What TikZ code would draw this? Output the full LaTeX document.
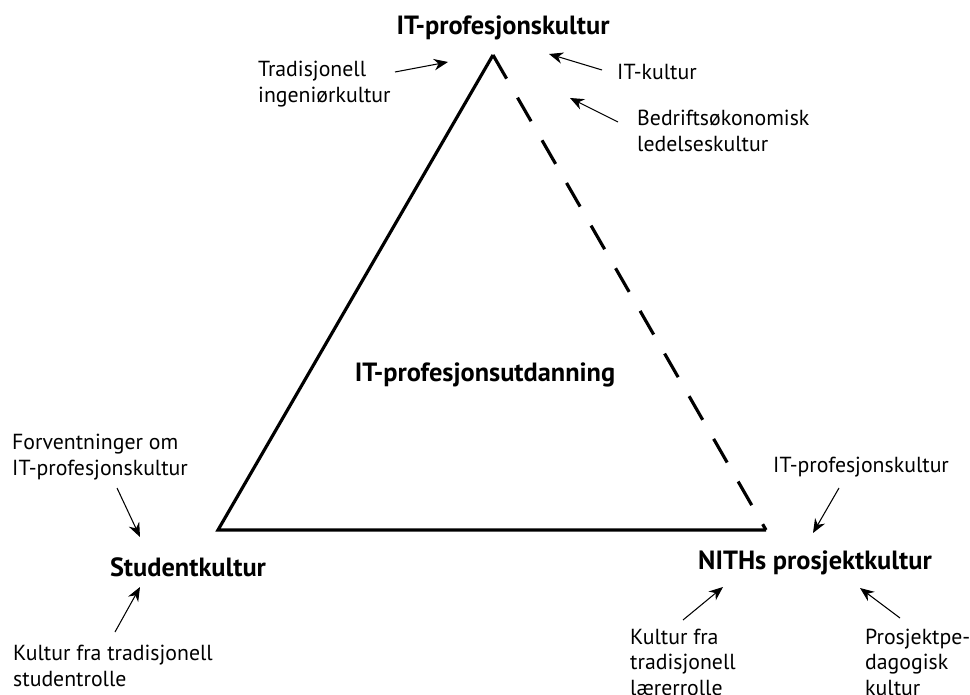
\documentclass[tikz,border=0pt]{standalone}
\usepackage{fontspec}
\setmainfont{PT Sans}
\usetikzlibrary{arrows.meta}

\tikzset{
  hovud/.style = {font=\fontsize{15}{17}\selectfont\bfseries},
  merk/.style  = {font=\fontsize{12.4}{14.5}\selectfont, align=left, anchor=west},
  pil/.style   = {line width=0.6pt, -{Stealth[length=8pt, width=6.5pt]}},
}

\begin{document}
\begin{tikzpicture}[
      x = 0.02cm,
      y = -0.02cm,
  ]

  \useasboundingbox (0,0) rectangle (970,695);

  % hjornene i trekanten
  \coordinate (topp) at (493,55);
  \coordinate (venstre) at (218,530);
  \coordinate (hogre) at (766,530);

  \draw [solid, line width=1.8pt, line join=miter] (hogre) -- (venstre) -- (topp);
  \draw [line width=1.8pt, dash pattern=on 15.5pt off 12.5pt] (topp) -- (hogre);

  \node[hovud] (itprof) at (503,28) {IT-profesjonskultur};
  \node[hovud] (utd) at (485,375) {IT-profesjonsutdanning};
  \node[hovud] (student) at (188,567) {Studentkultur};
  \node[hovud] (nith) at (815,563) {NITHs prosjektkultur};

  \node[merk] (ing) at (252,84) {Tradisjonell\\ingeniørkultur};
  \node[merk] (itkult) at (611,72) {IT-kultur};
  \node[merk] (bedr) at (631,131) {Bedriftsøkonomisk\\ledelseskultur};
  \node[merk] (forv) at (6,457) {Forventninger om\\IT-profesjonskultur};
  \node[merk] (studrolle) at (7,666) {Kultur fra tradisjonell\\studentrolle};
  \node[merk] (itprof2) at (767,467) {IT-profesjonskultur};
  \node[merk] (laerar) at (624,662) {Kultur fra\\tradisjonell\\lærerrolle};
  \node[merk] (prosj) at (859,662) {Prosjektpe-\\dagogisk\\kultur};

  % endepunkt for pilene
  \coordinate (a1) at (395,72);  \coordinate (b1) at (448,62);
  \coordinate (a2) at (602,70);  \coordinate (b2) at (549,54);
  \coordinate (a3) at (618,122); \coordinate (b3) at (570,98);
  \coordinate (a4) at (117,488); \coordinate (b4) at (140,537);
  \coordinate (a5) at (115,632); \coordinate (b5) at (140,587);
  \coordinate (a6) at (839,488); \coordinate (b6) at (813,533);
  \coordinate (a7) at (683,620); \coordinate (b7) at (723,587);
  \coordinate (a8) at (900,618); \coordinate (b8) at (860,588);

  \foreach \i in {1,...,8}
    \draw [pil] (a\i) -- (b\i);

\end{tikzpicture}
\end{document}
